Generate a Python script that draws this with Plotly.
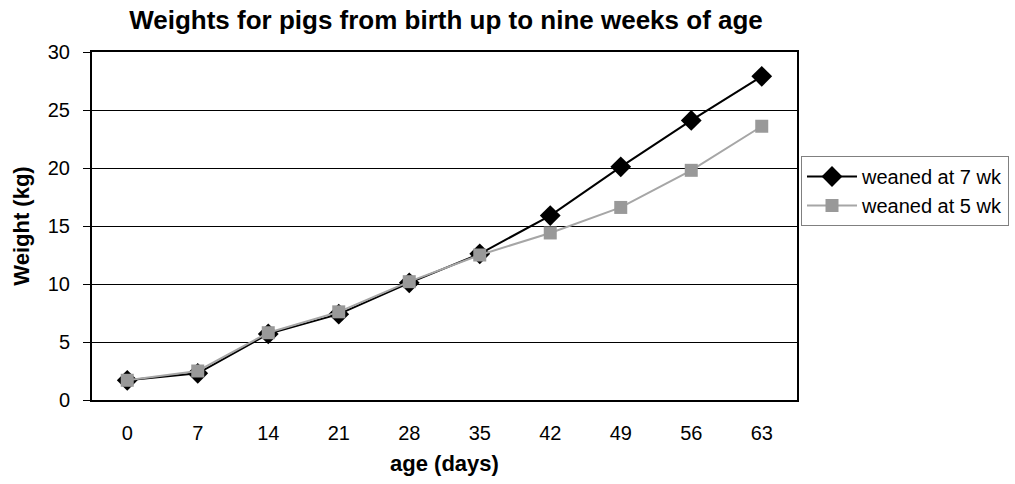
import plotly.graph_objects as go

ages = ["0", "7", "14", "21", "28", "35", "42", "49", "56", "63"]
weaned_7wk = [1.7, 2.3, 5.7, 7.4, 10.1, 12.6, 15.9, 20.1, 24.1, 27.9]
weaned_5wk = [1.7, 2.5, 5.8, 7.6, 10.2, 12.5, 14.4, 16.6, 19.8, 23.6]
y_ticks = [0, 5, 10, 15, 20, 25, 30]

FONT = "Liberation Sans, Arial, sans-serif"

fig = go.Figure()
fig.add_trace(go.Scatter(
    x=ages, y=weaned_7wk, name="weaned at 7 wk", mode="lines+markers",
    line=dict(color="#000000", width=2),
    marker=dict(symbol="diamond", size=16, color="#000000"),
))
fig.add_trace(go.Scatter(
    x=ages, y=weaned_5wk, name="weaned at 5 wk", mode="lines+markers",
    line=dict(color="#a6a6a6", width=2),
    marker=dict(symbol="square", size=13, color="#999999"),
))

fig.update_layout(
    width=1015, height=484,
    margin=dict(l=92, r=218, t=52, b=84, autoexpand=False),
    paper_bgcolor="white", plot_bgcolor="white",
    font=dict(family=FONT, color="#000000", size=20),
    title=dict(text="<b>Weights for pigs from birth up to nine weeks of age</b>",
               x=446/1015, xanchor="center", y=1 - 20/484, yanchor="middle",
               font=dict(size=26, family=FONT, color="#000000")),
    showlegend=True,
    legend=dict(xref="container", yref="container",
                x=801/1015, xanchor="left", y=1 - 156/484, yanchor="top",
                bordercolor="#808080", borderwidth=1, bgcolor="white",
                itemwidth=50,
                font=dict(size=20, family=FONT, color="#000000")),
)
fig.update_xaxes(
    type="category", categoryorder="array", categoryarray=ages,
    range=[-0.5, 9.5],
    showline=True, linecolor="#000000", linewidth=2, mirror=True,
    showgrid=False, ticks="outside", ticklen=14, tickcolor="rgba(0,0,0,0)",
    tickfont=dict(size=20),
    title=dict(text="<b>age (days)</b>", font=dict(size=22), standoff=13),
)
fig.update_yaxes(
    range=[0, 30], tickvals=y_ticks,
    showline=True, linecolor="#000000", linewidth=2, mirror=True,
    showgrid=True, gridcolor="#000000", gridwidth=1,
    ticks="outside", ticklen=7, tickcolor="#000000", tickfont=dict(size=20),
    ticklabelstandoff=9,
    zeroline=False,
    title=dict(text="<b>Weight (kg)</b>", font=dict(size=22), standoff=12),
)

fig.write_html("out.html")
